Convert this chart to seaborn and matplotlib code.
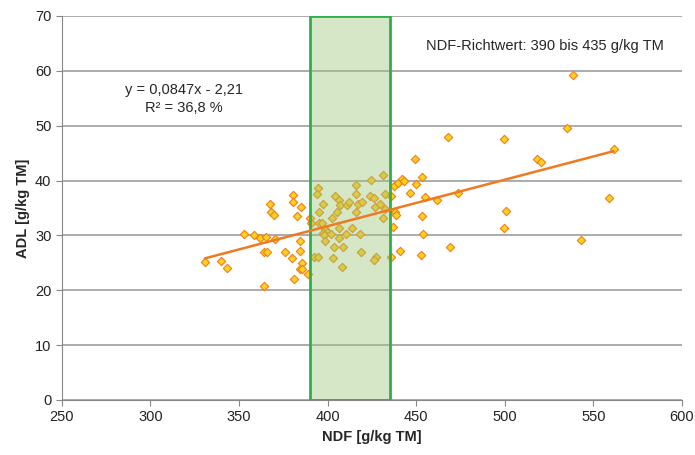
import numpy as np
import pandas as pd
import seaborn as sns
import matplotlib.pyplot as plt
from matplotlib.patches import Rectangle

# NDF vs ADL values
ndf = [330.7, 339.8, 343.4, 353.0, 358.6, 361.8, 365.0, 370.4, 364.0, 366.0,
       364.0, 367.6, 368.2, 370.0, 380.4, 380.4, 385.1, 382.9, 375.9, 379.9,
       384.6, 384.6, 385.7, 384.6, 385.7, 380.8, 389.0,
       390.3, 390.8, 392.3, 394.8, 394.4, 394.0, 395.0, 395.0, 396.9, 397.4,
       398.8, 399.5, 397.5, 398.1, 401.9, 398.8, 402.5, 403.8, 403.2, 404.4,
       405.4, 406.3, 406.3, 406.3, 407.2, 408.6, 408.4, 410.9, 411.9, 410.5,
       413.9, 415.8, 416.0, 416.0, 417.4, 419.3, 418.6, 418.8, 424.5, 424.0,
       426.5, 427.0, 429.8, 431.3, 432.7, 432.7, 431.3, 427.3, 426.5,
       435.9, 436.7, 436.1,
       437.6, 439.7, 442.3, 443.3, 438.2, 438.4, 440.8, 446.4, 449.2, 450.2,
       453.5, 455.0, 453.5, 454.0, 452.9, 461.8, 469.3, 467.8, 473.4, 499.8,
       500.9, 499.8, 518.4, 520.6, 535.3, 538.5, 543.0, 558.9, 561.5]
adl = [25.1, 25.3, 24.1, 30.3, 30.1, 29.5, 29.7, 29.3, 27.0, 27.0,
       20.8, 35.7, 34.3, 33.8, 37.3, 36.0, 35.1, 33.6, 27.0, 25.9,
       29.0, 27.1, 24.9, 23.9, 23.9, 22.1, 23.0,
       33.2, 32.2, 26.0, 26.1, 38.7, 37.6, 34.3, 32.3, 32.3, 35.7,
       31.2, 30.7, 30.5, 30.1, 30.2, 29.0, 33.2, 27.8, 25.9, 37.2,
       34.2, 36.5, 31.4, 29.5, 35.5, 27.9, 24.3, 35.5, 36.0, 30.2,
       31.4, 34.2, 37.6, 39.2, 35.7, 36.0, 30.2, 27.0, 40.1, 37.2,
       36.8, 35.2, 35.7, 41.0, 37.5, 34.8, 33.1, 26.0, 25.5,
       37.1, 31.6, 26.0,
       39.0, 39.5, 40.2, 40.0, 34.2, 33.7, 27.2, 37.7, 43.9, 39.4,
       40.7, 37.0, 33.6, 30.3, 26.5, 36.5, 27.9, 48.0, 37.7, 47.6,
       34.5, 31.4, 44.0, 43.4, 49.6, 59.3, 29.1, 36.9, 45.8]

slope, intercept = 0.0847, -2.21
ndf_low, ndf_high = 390, 435

df = pd.DataFrame({"NDF": ndf, "ADL": adl})

sns.set_style("white")
plt.rcParams["font.family"] = ["Liberation Sans", "DejaVu Sans"]

fig = plt.figure(figsize=(6.95, 4.55), dpi=100)
ax = fig.add_axes([0.089, 0.121, 0.892, 0.844])

sns.scatterplot(data=df, x="NDF", y="ADL", marker="D", s=18,
                color="#FFD21F", edgecolor="#F07D1A", linewidth=0.8,
                ax=ax, zorder=3)

# NDF target range
ax.add_patch(Rectangle((ndf_low, 0), ndf_high - ndf_low, 70,
                       facecolor="#9BC87A", alpha=0.42, edgecolor="none", zorder=4))
ax.add_patch(Rectangle((ndf_low, 0), ndf_high - ndf_low, 70,
                       facecolor="none", edgecolor="#2DB04B", linewidth=2, zorder=5))

# trend line
xl = np.array([min(ndf), max(ndf)])
sns.lineplot(x=xl, y=slope * xl + intercept, color="#EE7A22", linewidth=1.8,
             ax=ax, zorder=6)

ax.set_xlim(250, 600)
ax.set_ylim(0, 70)
ax.set_xticks(range(250, 601, 50))
ax.set_yticks(range(0, 71, 10))
ax.yaxis.grid(True, color="#A6A6A6", linewidth=1.3)
ax.set_axisbelow(True)
for s in ["top", "right"]:
    ax.spines[s].set_visible(False)
for s in ["left", "bottom"]:
    ax.spines[s].set_color("#888888")
ax.tick_params(axis="both", which="both", length=4, color="#888888",
               labelsize=10.5, labelcolor="#222222", direction="out",
               bottom=True, left=True)

ax.set_xlabel("NDF [g/kg TM]", fontsize=10.5, fontweight="bold")
ax.set_ylabel("ADL [g/kg TM]", fontsize=10.5, fontweight="bold")

ax.text(319, 56.5, "y = 0,0847x - 2,21", ha="center", va="center", fontsize=10.5)
ax.text(319, 53.2, "R² = 36,8 %", ha="center", va="center", fontsize=10.5)
ax.text(522.5, 64.5, "NDF-Richtwert: 390 bis 435 g/kg TM", ha="center",
        va="center", fontsize=10.5)

fig.savefig("out.png", dpi=100)
